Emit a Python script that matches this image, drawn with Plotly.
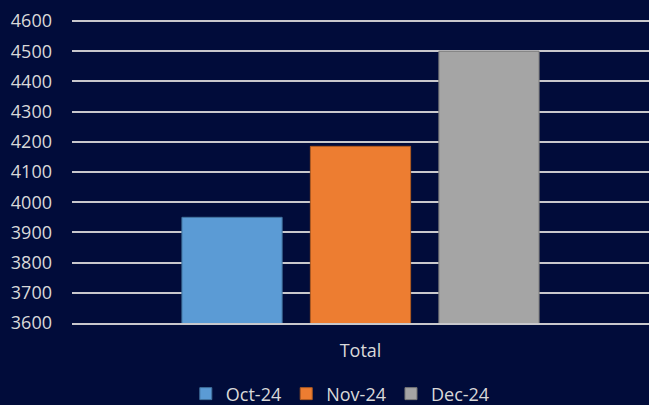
import plotly.graph_objects as go

# monthly totals
categories = ["Total"]
months = ["Oct-24", "Nov-24", "Dec-24"]
totals = [3950, 4185, 4500]
colours = ["#5B9BD5", "#ED7D31", "#A5A5A5"]
edge_colours = ["#41719C", "#AE5A21", "#787878"]

bg = "#010C3A"
text_col = "#D9D9D9"
grid_col = "#C8C8CC"

fig = go.Figure()
for month, value, colour, edge in zip(months, totals, colours, edge_colours):
    fig.add_trace(go.Bar(
        x=categories,
        y=[value],
        name=month,
        marker=dict(color=colour, line=dict(color=edge, width=1)),
    ))

fig.update_layout(
    width=649,
    height=405,
    barmode="group",
    bargap=0.332,
    bargroupgap=0.22,
    paper_bgcolor=bg,
    plot_bgcolor=bg,
    margin=dict(l=72, r=0, t=18, b=82, autoexpand=False),
    font=dict(family="Open Sans, sans-serif", size=18, color=text_col),
    showlegend=True,
    legend=dict(
        orientation="h",
        x=0.465,
        xanchor="center",
        yref="container",
        y=0.073,
        yanchor="top",
        font=dict(size=18, color=text_col),
        itemwidth=30,
        traceorder="normal",
    ),
)

fig.update_yaxes(
    range=[3600, 4610],
    dtick=100,
    tick0=3600,
    showgrid=True,
    gridcolor=grid_col,
    gridwidth=1.5,
    zeroline=False,
    showline=False,
    ticks="",
    ticklabelstandoff=19,
    tickfont=dict(size=18, color=text_col),
)

# bottom gridline (3600) drawn as the x axis line
fig.update_xaxes(
    showgrid=False,
    showline=True,
    linecolor=grid_col,
    linewidth=1.5,
    ticks="",
    tickfont=dict(size=18, color=text_col),
    ticklabelstandoff=11,
)

fig.write_html(
    "out.html",
    config={"displayModeBar": False},
    post_script="document.body.style.margin='0';document.body.style.overflow='hidden';",
)
